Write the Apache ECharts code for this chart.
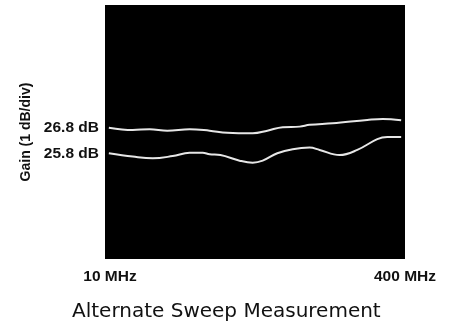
<!DOCTYPE html>
<html>
<head>
<meta charset="utf-8">
<script src="https://cdn.jsdelivr.net/npm/echarts@6/dist/echarts.min.js"></script>
<style>
html,body{margin:0;padding:0;background:#fff;}
#chart{width:452px;height:324px;}
</style>
</head>
<body>
<div id="chart"></div>
<script>
// Upper trace (alternate sweep, trace A)
const upperFreqMHz = [15, 46, 68, 91, 120, 146, 169, 202, 221, 241, 263, 276, 306, 351, 371, 395];
const upperGainDb  = [26.80, 26.71, 26.74, 26.68, 26.74, 26.68, 26.60, 26.58, 26.68, 26.82, 26.84, 26.91, 26.97, 27.10, 27.14, 27.09];
// Lower trace (alternate sweep, trace B)
const lowerFreqMHz = [15, 46, 72, 98, 120, 137, 146, 160, 185, 202, 215, 234, 254, 276, 289, 315, 338, 364, 377, 395];
const lowerGainDb  = [25.80, 25.67, 25.60, 25.69, 25.82, 25.82, 25.76, 25.73, 25.51, 25.43, 25.51, 25.80, 25.96, 26.02, 25.93, 25.73, 25.93, 26.35, 26.43, 26.43];
// Tick labels
const xTickValues = [10, 400];
const yTickValues = [25.8, 26.8];
const titleText = 'Alternate Sweep Measurement';
const yAxisName = 'Gain (1 dB/div)';

const chart = echarts.init(document.getElementById('chart'), null, {renderer: 'canvas'});
const pair = (xs, ys) => xs.map((x, i) => [x, ys[i]]);
const traceStyle = {color: '#e6e6e6', width: 2};

chart.setOption({
  animation: false,
  backgroundColor: '#ffffff',
  title: {
    text: titleText,
    left: 67,
    top: 297,
    textStyle: {fontFamily: 'DejaVu Sans', fontSize: 20, fontWeight: 'normal', color: '#111'}
  },
  grid: {
    left: 105, right: 47, top: 5, bottom: 65,
    show: true, backgroundColor: '#000000', borderWidth: 0
  },
  xAxis: {
    type: 'value', min: 10, max: 400,
    axisLine: {show: false}, axisTick: {show: false}, splitLine: {show: false},
    axisLabel: {
      customValues: xTickValues,
      margin: 10,
      fontFamily: 'Liberation Sans', fontSize: 15.5, fontWeight: 'bold', color: '#111',
      formatter: v => v === 10 ? '{l|' + v + ' MHz}' : v + ' MHz',
      rich: {l: {fontFamily: 'Liberation Sans', fontSize: 15.5, fontWeight: 'bold', color: '#111', padding: [0, 0, 0, 10]}}
    }
  },
  yAxis: {
    type: 'value', min: 21.67, max: 31.59,
    name: yAxisName, nameLocation: 'middle', nameGap: 70, nameRotate: 90,
    nameTextStyle: {fontFamily: 'Liberation Sans', fontSize: 14, fontWeight: 'bold', color: '#111'},
    axisLine: {show: false}, axisTick: {show: false}, splitLine: {show: false},
    axisLabel: {
      customValues: yTickValues,
      margin: 6,
      fontFamily: 'Liberation Sans', fontSize: 15.5, fontWeight: 'bold', color: '#111',
      formatter: v => v.toFixed(1) + ' dB'
    }
  },
  series: [
    {type: 'line', data: pair(upperFreqMHz, upperGainDb), smooth: 0.4, showSymbol: false, lineStyle: traceStyle},
    {type: 'line', data: pair(lowerFreqMHz, lowerGainDb), smooth: 0.4, showSymbol: false, lineStyle: traceStyle}
  ]
});
</script>
</body>
</html>
